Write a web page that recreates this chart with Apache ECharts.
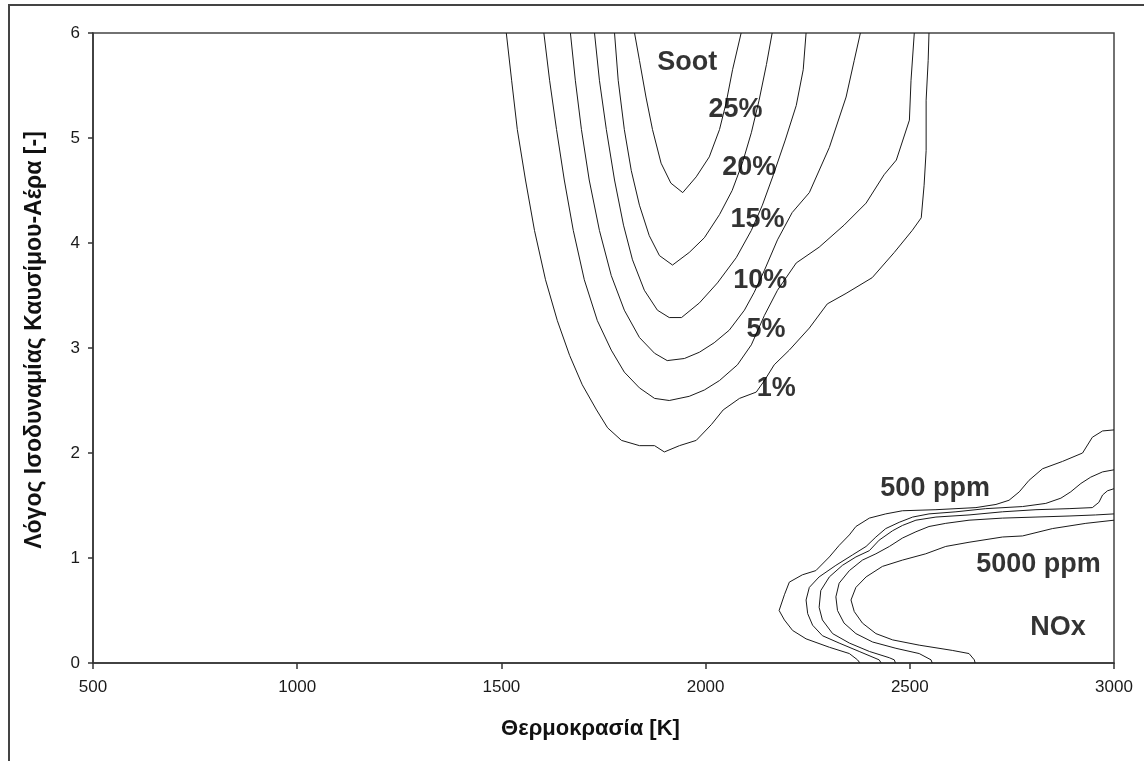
<!DOCTYPE html>
<html>
<head>
<meta charset="utf-8">
<script src="https://cdn.jsdelivr.net/npm/echarts@6/dist/echarts.min.js"></script>
<style>
html,body{margin:0;padding:0;background:#fff;}
#chart{width:1144px;height:761px;}
</style>
</head>
<body>
<div id="chart"></div>
<script>
// Axis settings
var xTicks = [500, 1000, 1500, 2000, 2500, 3000];
var yTicks = [0, 1, 2, 3, 4, 5, 6];
var xTitle = 'Θερμοκρασία [K]';
var yTitle = 'Λόγος Ισοδυναμίας Καυσίμου-Αέρα [-]';

// Soot iso-lines: [temperature K, equivalence ratio]
var soot1 = [[1512,6],[1525,5.55],[1539,5.08],[1559,4.6],[1581,4.12],[1608,3.65],[1637,3.26],[1667,2.93],[1698,2.65],[1733,2.41],[1760,2.24],[1794,2.12],[1838,2.07],[1875,2.07],[1899,2.01],[1936,2.07],[1977,2.12],[2014,2.27],[2043,2.41],[2083,2.52],[2124,2.58],[2144,2.69],[2168,2.84],[2205,2.98],[2254,3.19],[2298,3.42],[2344,3.52],[2408,3.67],[2462,3.91],[2506,4.12],[2528,4.24],[2535,4.55],[2540,4.88],[2540,5.36],[2545,5.74],[2547,6]];
var soot5 = [[1604,6],[1618,5.55],[1635,5.08],[1654,4.6],[1676,4.12],[1703,3.65],[1735,3.26],[1769,2.98],[1801,2.77],[1838,2.62],[1875,2.52],[1911,2.5],[1960,2.54],[1997,2.6],[2034,2.69],[2078,2.84],[2112,3.03],[2144,3.31],[2176,3.55],[2222,3.81],[2278,3.96],[2339,4.17],[2393,4.38],[2437,4.65],[2467,4.79],[2499,5.17],[2503,5.55],[2511,6]];
var soot10 = [[1669,6],[1681,5.55],[1696,5.08],[1715,4.6],[1740,4.12],[1769,3.69],[1801,3.36],[1838,3.1],[1875,2.95],[1906,2.88],[1948,2.9],[1985,2.96],[2021,3.05],[2058,3.17],[2095,3.36],[2119,3.53],[2144,3.74],[2176,4.03],[2212,4.29],[2254,4.48],[2303,4.91],[2344,5.39],[2364,5.74],[2379,6]];
var soot15 = [[1728,6],[1740,5.55],[1757,5.08],[1777,4.6],[1799,4.17],[1821,3.84],[1850,3.55],[1882,3.36],[1911,3.29],[1941,3.29],[1985,3.43],[2029,3.62],[2075,3.86],[2112,4.12],[2139,4.36],[2166,4.65],[2195,4.98],[2222,5.31],[2239,5.65],[2246,6]];
var soot20 = [[1777,6],[1786,5.55],[1801,5.08],[1818,4.69],[1838,4.36],[1862,4.07],[1887,3.88],[1919,3.79],[1960,3.91],[1997,4.05],[2034,4.27],[2065,4.5],[2090,4.76],[2112,5.05],[2131,5.36],[2149,5.7],[2163,6]];
var soot25 = [[1826,6],[1838,5.74],[1854,5.39],[1870,5.08],[1891,4.76],[1915,4.57],[1944,4.48],[1977,4.63],[2009,4.82],[2034,5.08],[2050,5.33],[2066,5.65],[2087,6]];

// NOx iso-lines
var nox500 = [[3000,2.22],[2972,2.21],[2947,2.15],[2923,2.0],[2874,1.92],[2825,1.85],[2792,1.74],[2768,1.63],[2743,1.55],[2711,1.51],[2662,1.48],[2564,1.46],[2482,1.45],[2441,1.42],[2401,1.38],[2368,1.3],[2352,1.22],[2327,1.12],[2303,1.01],[2270,0.88],[2237,0.84],[2205,0.77],[2193,0.65],[2180,0.5],[2193,0.41],[2213,0.31],[2246,0.23],[2303,0.15],[2352,0.09],[2372,0.03],[2378,0]];
var nox1000 = [[3000,1.84],[2972,1.82],[2943,1.77],[2919,1.71],[2894,1.63],[2870,1.57],[2833,1.52],[2776,1.49],[2686,1.47],[2613,1.44],[2547,1.42],[2507,1.39],[2474,1.34],[2441,1.28],[2417,1.2],[2393,1.11],[2360,1.03],[2319,0.93],[2278,0.82],[2254,0.72],[2246,0.6],[2250,0.47],[2262,0.36],[2286,0.26],[2327,0.19],[2376,0.11],[2425,0.03],[2430,0]];
var nox2000 = [[3000,1.66],[2984,1.64],[2972,1.6],[2963,1.53],[2947,1.48],[2890,1.47],[2809,1.46],[2727,1.44],[2645,1.41],[2564,1.39],[2515,1.36],[2482,1.31],[2458,1.26],[2425,1.17],[2401,1.07],[2368,1.01],[2335,0.93],[2303,0.82],[2282,0.69],[2278,0.53],[2286,0.41],[2311,0.28],[2352,0.19],[2401,0.11],[2450,0.05],[2462,0.03],[2465,0]];
var nox3000 = [[3000,1.42],[2955,1.41],[2890,1.4],[2809,1.39],[2727,1.38],[2645,1.36],[2588,1.33],[2547,1.3],[2515,1.25],[2482,1.19],[2450,1.11],[2417,1.04],[2384,0.98],[2352,0.88],[2327,0.76],[2319,0.63],[2323,0.5],[2339,0.38],[2368,0.28],[2409,0.2],[2466,0.14],[2523,0.09],[2552,0.03],[2555,0]];
var nox5000 = [[3000,1.36],[2931,1.33],[2849,1.28],[2776,1.21],[2727,1.2],[2645,1.15],[2588,1.11],[2539,1.04],[2482,0.98],[2433,0.92],[2393,0.82],[2368,0.72],[2356,0.6],[2364,0.49],[2384,0.38],[2417,0.28],[2458,0.22],[2523,0.17],[2604,0.12],[2645,0.09],[2658,0.03],[2660,0]];

// Annotation texts and their anchor points in data units
var annoText = ['Soot','25%','20%','15%','10%','5%','1%','500 ppm','5000 ppm','NOx'];
var annoPos = [[1955,5.72],[2073,5.27],[2107,4.72],[2127,4.22],[2134,3.64],[2148,3.18],[2173,2.61],[2562,1.66],[2815,0.94],[2863,0.34]];

var curves = [soot1, soot5, soot10, soot15, soot20, soot25, nox500, nox1000, nox2000, nox3000, nox5000];

var chart = echarts.init(document.getElementById('chart'), null, {renderer:'canvas'});
var series = curves.map(function(c){
  return {
    type:'line', data:c, showSymbol:false, symbol:'none', smooth:false,
    lineStyle:{color:'#1a1a1a', width:1}, silent:true, animation:false
  };
});
series.push({
  type:'scatter', silent:true, animation:false,
  symbolSize:1, itemStyle:{color:'rgba(0,0,0,0)'},
  data: annoPos.map(function(p,i){ return {value:p, name:annoText[i]}; }),
  label:{show:true, position:'inside', formatter:function(p){return p.name;},
    fontFamily:'Liberation Sans, Arial, sans-serif', fontWeight:'bold', fontSize:27, color:'#000'},
  z:10
});

var option = {
  backgroundColor:'#fff',
  animation:false,
  graphic:[{type:'rect', shape:{x:9, y:5, width:1300, height:900}, style:{fill:'none', stroke:'#444', lineWidth:2}, silent:true, z:-1}],
  grid:{left:93, right:30, top:33, bottom:98, show:true, borderColor:'#444', borderWidth:1.5, backgroundColor:'#fff'},
  xAxis:{type:'value', min:xTicks[0], max:xTicks[xTicks.length-1], interval:500,
    name:xTitle, nameLocation:'middle', nameGap:55,
    nameTextStyle:{fontFamily:'Liberation Sans, Arial, sans-serif', fontWeight:'bold', fontSize:22, color:'#111', padding:[0,26,0,0]},
    axisLine:{lineStyle:{color:'#333', width:1.5}},
    axisTick:{show:true, inside:false, length:6, lineStyle:{color:'#333', width:1.5}},
    axisLabel:{margin:16, fontFamily:'Liberation Sans, Arial, sans-serif', fontSize:17, color:'#1a1a1a',
      formatter:function(v){return String(v);}},
    splitLine:{show:false}},
  yAxis:{type:'value', min:yTicks[0], max:yTicks[yTicks.length-1], interval:1,
    name:yTitle, nameLocation:'middle', nameGap:47,
    nameTextStyle:{fontFamily:'Liberation Sans, Arial, sans-serif', fontWeight:'bold', fontSize:23, color:'#111', padding:[0,0,0,16]},
    axisLine:{show:true, lineStyle:{color:'#333', width:1.5}},
    axisTick:{show:true, inside:false, length:5, lineStyle:{color:'#333', width:1.5}},
    axisLabel:{margin:13, fontFamily:'Liberation Sans, Arial, sans-serif', fontSize:17, color:'#1a1a1a'},
    splitLine:{show:false}},
  series:series
};
chart.setOption(option);
</script>
</body>
</html>
